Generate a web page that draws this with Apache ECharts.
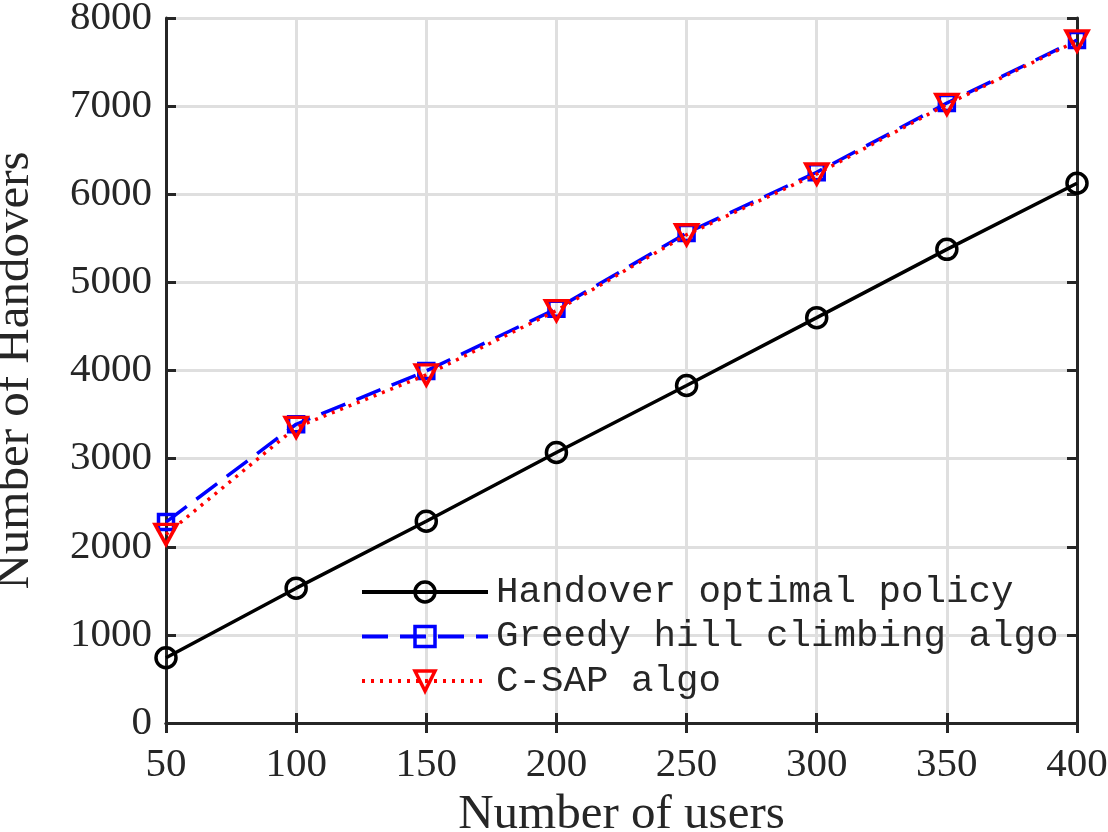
<!DOCTYPE html>
<html>
<head>
<meta charset="utf-8">
<script src="https://cdn.jsdelivr.net/npm/echarts@6/dist/echarts.min.js"></script>
<style>
  html, body { margin: 0; padding: 0; background: #fff; }
  #chart { width: 1108px; height: 832px; }
</style>
</head>
<body>
<div id="chart"></div>
<script>
// number of users
const users = [50, 100, 150, 200, 250, 300, 350, 400]
// handovers per method
const optimalPolicy = [740, 1530, 2290, 3070, 3830, 4600, 5375, 6125]
const greedyHill = [2280, 3390, 3995, 4700, 5560, 6250, 7035, 7750]
const cSap = [2140, 3355, 3950, 4680, 5540, 6230, 7020, 7740]
const seriesNames = ['Handover optimal policy', 'Greedy hill climbing algo', 'C-SAP algo']

const chart = echarts.init(document.getElementById('chart'))
const axisColor = '#262626'
const serif = '"Liberation Serif", "DejaVu Serif", serif'

const pairs = (ys) => users.map((x, i) => [x, ys[i]])

const boxAxis = (extra) => Object.assign({
  type: 'value',
  axisLine: { show: true, lineStyle: { color: axisColor, width: 3 } },
  axisTick: { show: true, inside: true, length: 10, lineStyle: { color: axisColor, width: 3 } },
  axisLabel: { show: false },
  splitLine: { show: false },
}, extra)

chart.setOption({
  backgroundColor: '#fff',
  animation: false,
  grid: { left: 166, right: 31, top: 18, bottom: 109, containLabel: false, outerBoundsMode: 'none' },
  legend: {
    left: 355,
    top: 567,
    orient: 'vertical',
    itemWidth: 126,
    itemHeight: 25,
    itemGap: 4.5,
    data: seriesNames,
    lineStyle: { width: 4 },
    itemStyle: { borderWidth: 3.5 },
    textStyle: { fontFamily: '"Liberation Mono", monospace', fontSize: 37.5, lineHeight: 40, color: '#262626', padding: [0, 0, 0, 3] },
  },
  xAxis: [
    boxAxis({
      min: 50, max: 400, interval: 50,
      name: 'Number of users',
      nameLocation: 'middle',
      nameGap: 65,
      nameTextStyle: { fontFamily: serif, fontSize: 49, color: axisColor },
      axisLabel: { show: true, fontFamily: serif, fontSize: 41, color: axisColor, margin: 22, formatter: (v) => String(v) },
      splitLine: { show: true, lineStyle: { color: '#dfdfdf', width: 3 } },
    }),
    boxAxis({ min: 50, max: 400, interval: 50, position: 'top' }),
  ],
  yAxis: [
    boxAxis({
      min: 0, max: 8000, interval: 1000,
      name: 'Number of Handovers',
      nameLocation: 'middle',
      nameGap: 126,
      nameTextStyle: { fontFamily: serif, fontSize: 49, color: axisColor },
      axisLabel: { show: true, fontFamily: serif, fontSize: 41, color: axisColor, margin: 14, formatter: (v) => String(v) },
      splitLine: { show: true, lineStyle: { color: '#dfdfdf', width: 3 } },
    }),
    boxAxis({ min: 0, max: 8000, interval: 1000, position: 'right' }),
  ],
  series: [
    {
      name: seriesNames[0],
      type: 'line',
      data: pairs(optimalPolicy),
      symbol: 'circle',
      symbolSize: 20,
      lineStyle: { color: '#000', width: 3.5, type: 'solid' },
      itemStyle: { color: 'rgba(0,0,0,0)', borderColor: '#000', borderWidth: 3.5 },
      z: 3,
    },
    {
      name: seriesNames[1],
      type: 'line',
      data: pairs(greedyHill),
      symbol: 'rect',
      symbolSize: 15,
      lineStyle: { color: '#0000ff', width: 3.5, type: [26, 12] },
      itemStyle: { color: 'rgba(0,0,0,0)', borderColor: '#0000ff', borderWidth: 3.5 },
      z: 4,
    },
    {
      name: seriesNames[2],
      type: 'line',
      data: pairs(cSap),
      symbol: 'triangle',
      symbolRotate: 180,
      symbolSize: [22, 20],
      lineStyle: { color: '#ff0000', width: 3.5, type: [3, 6] },
      itemStyle: { color: 'rgba(0,0,0,0)', borderColor: '#ff0000', borderWidth: 3.5 },
      z: 5,
    },
  ],
})
</script>
</body>
</html>
